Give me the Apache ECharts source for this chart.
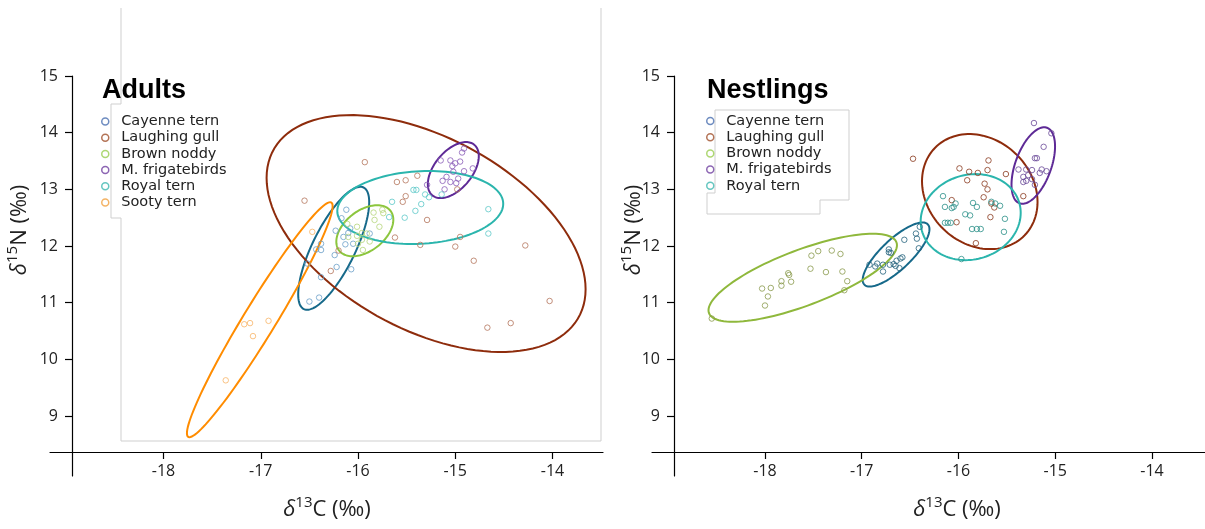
<!DOCTYPE html>
<html>
<head>
<meta charset="utf-8">
<script src="https://cdn.jsdelivr.net/npm/echarts@6/dist/echarts.min.js"></script>
<style>
  html, body { margin: 0; padding: 0; background: #fff; }
  #chart { width: 1205px; height: 529px; }
</style>
</head>
<body>
<div id="chart"></div>
<script>
const species = ['Cayenne tern', 'Laughing gull', 'Brown noddy', 'M. frigatebirds', 'Royal tern', 'Sooty tern']
const xTicks = [-18, -17, -16, -15, -14]
const yTicks = [9, 10, 11, 12, 13, 14, 15]

// adults: [d13C, d15N]
const adultCayenne = [[-16.12, 12.64], [-16.17, 12.49], [-16.23, 12.27], [-16.15, 12.16], [-16.10, 12.23], [-16.08, 12.31],
  [-16.05, 12.04], [-16.13, 12.03], [-16.38, 12.04], [-16.43, 11.94], [-16.38, 11.93], [-16.24, 11.84], [-16.52, 11.69],
  [-16.22, 11.63], [-16.07, 11.59], [-16.38, 11.45], [-16.40, 11.09], [-16.50, 11.02], [-15.88, 12.22]]
const adultLaughing = [[-15.93, 13.48], [-16.55, 12.80], [-15.60, 13.13], [-15.51, 13.16], [-15.39, 13.24], [-15.51, 12.88],
  [-15.54, 12.78], [-15.29, 12.46], [-15.62, 12.15], [-15.36, 12.02], [-14.95, 12.16], [-15.00, 11.99], [-14.81, 11.74],
  [-14.28, 12.01], [-14.03, 11.03], [-14.67, 10.56], [-14.43, 10.64], [-16.28, 11.56], [-14.98, 13.00], [-16.20, 11.92]]
const adultNoddy = [[-15.84, 12.59], [-15.74, 12.58], [-15.75, 12.64], [-15.83, 12.46], [-15.78, 12.34], [-16.01, 12.34],
  [-15.96, 12.23], [-15.91, 12.22], [-16.01, 12.18], [-15.96, 12.11], [-16.00, 12.04], [-15.88, 12.08], [-16.11, 12.39],
  [-16.10, 12.16], [-15.95, 11.93]]
const adultFrigate = [[-15.15, 13.51], [-15.05, 13.51], [-15.00, 13.46], [-14.95, 13.49], [-14.93, 13.65], [-14.91, 13.72],
  [-14.82, 13.37], [-14.91, 13.32], [-15.02, 13.31], [-15.09, 13.22], [-15.13, 13.15], [-15.05, 13.13], [-14.97, 13.19],
  [-15.11, 13.00], [-15.29, 13.08], [-14.99, 13.11], [-15.03, 13.41]]
const adultRoyal = [[-15.65, 12.78], [-15.52, 12.50], [-15.41, 12.62], [-15.43, 12.99], [-15.40, 12.99], [-15.35, 12.74],
  [-15.31, 12.91], [-15.27, 12.86], [-15.14, 12.91], [-14.66, 12.65], [-14.66, 12.22], [-15.68, 12.51]]
const adultSooty = [[-17.17, 10.62], [-17.11, 10.64], [-17.08, 10.41], [-16.92, 10.68], [-17.36, 9.63], [-16.47, 12.25]]

// nestlings: [d13C, d15N]
const nestCayenne = [[-16.40, 12.34], [-16.44, 12.22], [-16.43, 12.13], [-16.56, 12.11], [-16.41, 11.96], [-16.72, 11.94],
  [-16.72, 11.89], [-16.70, 11.88], [-16.60, 11.78], [-16.64, 11.74], [-16.67, 11.68], [-16.61, 11.61], [-16.71, 11.67],
  [-16.84, 11.69], [-16.78, 11.67], [-16.86, 11.64], [-16.78, 11.55], [-16.92, 11.67], [-16.65, 11.65], [-16.58, 11.80]]
const nestLaughing = [[-16.47, 13.54], [-15.99, 13.37], [-15.89, 13.31], [-15.80, 13.29], [-15.69, 13.51], [-15.70, 13.34],
  [-15.51, 13.27], [-15.91, 13.16], [-15.73, 13.10], [-15.70, 13.00], [-16.07, 12.81], [-15.74, 12.86], [-15.66, 12.75],
  [-15.63, 12.68], [-15.67, 12.51], [-16.02, 12.42], [-15.82, 12.05], [-15.33, 12.88]]
const nestNoddy = [[-18.55, 10.72], [-18.00, 10.95], [-17.97, 11.11], [-18.03, 11.25], [-17.94, 11.26], [-17.83, 11.30],
  [-17.83, 11.38], [-17.73, 11.37], [-17.75, 11.49], [-17.76, 11.52], [-17.53, 11.60], [-17.37, 11.54], [-17.20, 11.55],
  [-17.15, 11.38], [-17.18, 11.22], [-17.52, 11.83], [-17.45, 11.91], [-17.31, 11.92], [-17.22, 11.86]]
const nestFrigate = [[-15.22, 14.17], [-15.04, 13.99], [-15.12, 13.75], [-15.21, 13.55], [-15.19, 13.55], [-15.38, 13.35],
  [-15.30, 13.35], [-15.24, 13.34], [-15.14, 13.35], [-15.09, 13.32], [-15.16, 13.29], [-15.28, 13.25], [-15.33, 13.22],
  [-15.24, 13.18], [-15.33, 13.13], [-15.21, 13.08], [-15.30, 13.15]]
const nestRoyal = [[-16.16, 12.88], [-16.14, 12.69], [-16.07, 12.67], [-16.03, 12.75], [-16.05, 12.69], [-15.85, 12.76],
  [-15.81, 12.69], [-15.66, 12.78], [-15.62, 12.75], [-15.57, 12.71], [-15.93, 12.56], [-15.88, 12.54], [-16.14, 12.41],
  [-16.11, 12.41], [-16.08, 12.41], [-15.86, 12.30], [-15.81, 12.30], [-15.77, 12.30], [-15.52, 12.48], [-15.53, 12.25],
  [-15.97, 11.77]]

// standard ellipses: [centre d13C, centre d15N, half width, half height, correlation]
const adultEllipses = [[-16.25, 11.96, 0.365, 1.085, 0.75], [-15.30, 12.22, 1.64, 2.09, -0.47], [-15.93, 12.27, 0.293, 0.45, 0.43],
  [-15.02, 13.34, 0.262, 0.494, 0.5], [-15.36, 12.68, 0.853, 0.644, 0.1], [-17.01, 10.70, 0.749, 2.073, 0.966]]
const nestEllipses = [[-16.645, 11.85, 0.345, 0.565, 0.79], [-15.78, 12.96, 0.597, 1.015, -0.18], [-17.61, 11.44, 0.974, 0.776, 0.74],
  [-15.227, 13.42, 0.225, 0.675, 0.5], [-15.874, 12.51, 0.517, 0.759, 0.1]]

const adultPoints = [adultCayenne, adultLaughing, adultNoddy, adultFrigate, adultRoyal, adultSooty]
const nestPoints = [nestCayenne, nestLaughing, nestNoddy, nestFrigate, nestRoyal]

const legendColors = ['#4a6fb0', '#a0502c', '#9acd50', '#7040a0', '#3fb8b0', '#f0a040']
const adultPointColors = ['#6a9fc8', '#b4765c', '#b5d67c', '#8a5cb8', '#5cc8c8', '#f8b466']
const nestPointColors = ['#23627c', '#8a3a1e', '#8a9a4c', '#6a4a98', '#2a9088']
const adultLineColors = ['#16698a', '#8e2c0c', '#8cc63e', '#5e2a96', '#2bb5ad', '#ff8c00']
const nestLineColors = ['#16698a', '#8e2c0c', '#8fb83c', '#5e2a96', '#2bb5ad']

const FONT = 'Open Sans'

function ellipseItem(params, api) {
  const cx = api.value(0), cy = api.value(1), w = api.value(2), h = api.value(3), r = api.value(4)
  const phi = Math.acos(r)
  const pts = []
  for (let i = 0; i < 120; i++) {
    const t = i / 120 * Math.PI * 2
    pts.push(api.coord([cx + w * Math.cos(t), cy + h * Math.cos(t - phi)]))
  }
  return { type: 'polygon', shape: { points: pts }, style: { fill: 'none', stroke: api.visual('color'), lineWidth: 2 } }
}

function xAxis(grid, min, max) {
  return {
    type: 'value', gridIndex: grid, min, max, offset: -24,
    axisLine: { show: true, lineStyle: { color: '#000', width: 1.2 } },
    axisTick: { show: true, length: 7, customValues: xTicks, lineStyle: { color: '#000', width: 1.2 } },
    axisLabel: { customValues: xTicks, margin: 11, fontSize: 16, color: '#222', fontFamily: FONT },
    splitLine: { show: false },
  }
}

function yAxis(grid) {
  return {
    type: 'value', gridIndex: grid, min: 7.942, max: 15, offset: -22,
    axisLine: { show: true, lineStyle: { color: '#000', width: 1.2 } },
    axisTick: { show: true, length: 7, customValues: yTicks, lineStyle: { color: '#000', width: 1.2 } },
    axisLabel: { customValues: yTicks, margin: 14, fontSize: 16, color: '#222', fontFamily: FONT },
    splitLine: { show: false },
  }
}

const series = []
adultPoints.forEach((pts, i) => {
  series.push({ type: 'custom', name: species[i] + ' SEA', xAxisIndex: 0, yAxisIndex: 0, silent: true,
    itemStyle: { color: adultLineColors[i] }, renderItem: ellipseItem, data: [adultEllipses[i]], z: 2 })
  series.push({ type: 'scatter', name: species[i], xAxisIndex: 0, yAxisIndex: 0, symbol: 'circle', symbolSize: 5.5,
    itemStyle: { color: 'rgba(0,0,0,0)', borderColor: adultPointColors[i], borderWidth: 1 }, data: pts, z: 3 })
})
nestPoints.forEach((pts, i) => {
  series.push({ type: 'custom', name: species[i] + ' SEA (n)', xAxisIndex: 1, yAxisIndex: 1, silent: true,
    itemStyle: { color: nestLineColors[i] }, renderItem: ellipseItem, data: [nestEllipses[i]], z: 2 })
  series.push({ type: 'scatter', name: species[i], xAxisIndex: 1, yAxisIndex: 1, symbol: 'circle', symbolSize: 5.5,
    itemStyle: { color: 'rgba(0,0,0,0)', borderColor: nestPointColors[i], borderWidth: 1 }, data: pts, z: 3 })
})

function legend(left, top, names) {
  return {
    orient: 'vertical', left, top, padding: 0, itemGap: 0.2, itemWidth: 10, itemHeight: 7,
    icon: 'circle', selectedMode: false,
    textStyle: { fontSize: 14.5, lineHeight: 16, color: '#222', fontFamily: 'DejaVu Sans', padding: [0, 0, 0, 6] },
    data: names.map((n, i) => ({ name: n, itemStyle: { color: 'rgba(0,0,0,0)', borderColor: legendColors[i], borderWidth: 1.5 } })),
  }
}

const nameRich = {
  d: { fontSize: 22, lineHeight: 30, fontStyle: 'italic', fontFamily: FONT, fill: '#222' },
  s: { fontSize: 15, verticalAlign: 'top', lineHeight: 15, fontFamily: FONT, fill: '#222' },
  t: { fontSize: 22, lineHeight: 30, fontFamily: FONT, fill: '#222' },
}
function axisName(x, y, iso, rotate) {
  return { type: 'text', x, y, rotation: rotate ? Math.PI / 2 : 0, z: 10,
    style: { text: '{d|δ}{s|' + iso + '}{t|' + (iso === '15' ? 'N' : 'C') + ' (‰)}', rich: nameRich,
      align: 'center', verticalAlign: 'middle' } }
}

const frame = '#cfcfcf'
const option = {
  animation: false,
  textStyle: { fontFamily: FONT },
  title: [
    { text: 'Adults', left: 102, top: 77, padding: 0, textStyle: { fontSize: 27, fontWeight: 'bold', color: '#000', fontFamily: 'Liberation Sans' } },
    { text: 'Nestlings', left: 707, top: 77, padding: 0, textStyle: { fontSize: 27, fontWeight: 'bold', color: '#000', fontFamily: 'Liberation Sans' } },
  ],
  grid: [
    { left: 50, top: 76, width: 553, height: 400 },
    { left: 652, top: 76, width: 553, height: 400 },
  ],
  xAxis: [xAxis(0, -19.167, -13.481), xAxis(1, -19.168, -13.452)],
  yAxis: [yAxis(0), yAxis(1)],
  legend: [legend(101, 113.5, species), legend(706, 113, species.slice(0, 5))],
  graphic: [
    { type: 'polyline', silent: true, z: -1, shape: { points: [[121, 8], [121, 104], [111, 104], [111, 218], [121, 218], [121, 441], [601, 441], [601, 8]] },
      style: { stroke: frame, fill: 'none', lineWidth: 1 } },
    { type: 'polyline', silent: true, z: -1, shape: { points: [[715, 110], [849, 110], [849, 200], [820, 200], [820, 214], [707, 214], [707, 193], [715, 193], [715, 110]] },
      style: { stroke: frame, fill: 'none', lineWidth: 1 } },
    axisName(20, 230, '15', true),
    axisName(634, 230, '15', true),
    axisName(327, 510, '13', false),
    axisName(957, 510, '13', false),
  ],
  series,
}

const chart = echarts.init(document.getElementById('chart'))
chart.setOption(option)
</script>
</body>
</html>
